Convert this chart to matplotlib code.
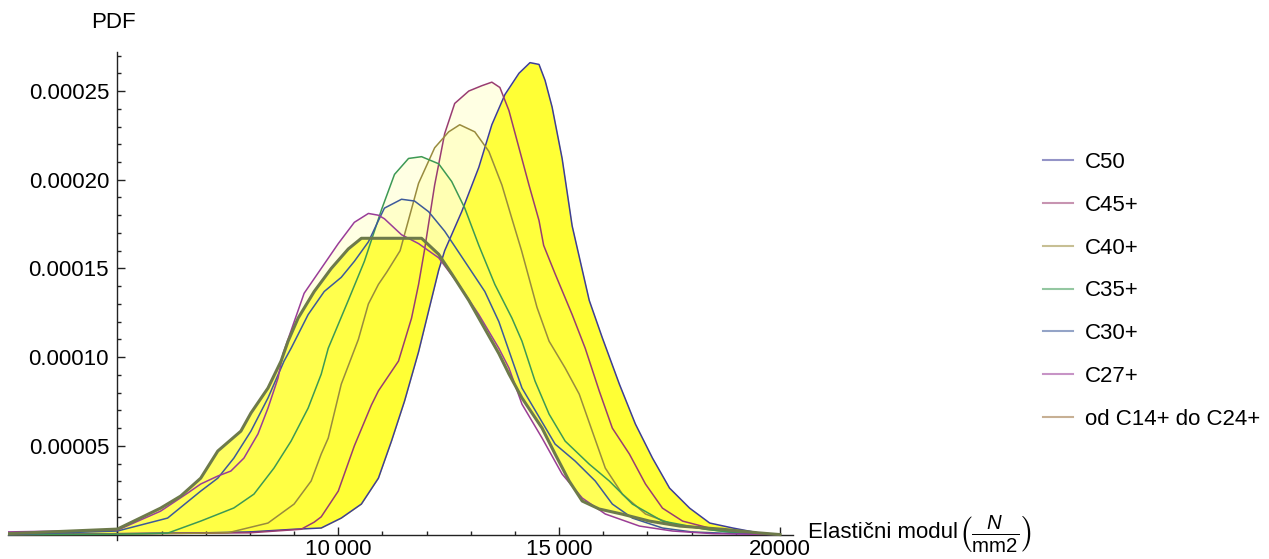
import numpy as np
import matplotlib
matplotlib.use("Agg")
import matplotlib.pyplot as plt
from matplotlib.lines import Line2D

plt.rcParams['font.family'] = ['Liberation Sans', 'DejaVu Sans']
plt.rcParams['mathtext.fontset'] = 'custom'
plt.rcParams['mathtext.rm'] = 'Liberation Sans'
plt.rcParams['mathtext.it'] = 'Liberation Sans:italic'

# ---- data (PDF values in units of 1e-5) ----
labels = ["C50", "C45+", "C40+", "C35+", "C30+", "C27+", "od C14+ do C24+"]

c50_x = [2500, 5000, 7000, 8000, 9000, 9614, 10068, 10523, 10909, 11205, 11500, 11818, 12045, 12273, 12409,
         12795, 13182, 13477, 13773, 14091, 14341, 14545, 14682, 14841, 15068, 15295, 15682, 15977, 16364,
         16727, 17114, 17500, 17955, 18409, 18932, 19500, 20000]
c50_y = [0, 0.05, 0.1, 0.15, 0.3, 0.37, 0.93, 1.72, 3.18, 5.27, 7.52, 10.3, 12.6, 14.9, 16.0,
         18.2, 20.7, 23.1, 24.8, 26.0, 26.6, 26.5, 25.6, 24.1, 21.2, 17.4, 13.2, 11.1, 8.48,
         6.23, 4.31, 2.62, 1.49, 0.65, 0.37, 0.1, 0]

c45_x = [2500, 5000, 8000, 9159, 9455, 9614, 10000, 10364, 10750, 10909, 11364, 11659, 11818, 11950, 12182,
         12409, 12636, 12955, 13250, 13477, 13659, 13864, 14091, 14318, 14545, 14650, 14909, 15295, 15591,
         15909, 16205, 16591, 16955, 17340, 17795, 18400, 19000, 20000]
c45_y = [0, 0.05, 0.1, 0.3, 0.7, 1.0, 2.45, 5.0, 7.3, 8.1, 9.78, 12.2, 14.1, 16.0, 19.7,
         22.6, 24.3, 25.0, 25.3, 25.5, 25.2, 23.9, 21.8, 19.7, 17.7, 16.3, 14.7, 12.4, 10.5,
         8.09, 6.0, 4.54, 2.85, 1.49, 0.76, 0.37, 0.15, 0]

c40_x = [2500, 5000, 7500, 8409, 9000, 9386, 9614, 9773, 10068, 10455, 10682, 10909, 11100, 11400, 11818,
         12182, 12500, 12750, 13091, 13409, 13705, 13932, 14150, 14500, 14773, 15136, 15455, 15750, 16045,
         16432, 16955, 17568, 18318, 19000, 20000]
c40_y = [0, 0.02, 0.1, 0.65, 1.72, 3.02, 4.54, 5.44, 8.48, 11.0, 13.0, 14.1, 14.8, 16.0, 19.8,
         21.8, 22.7, 23.1, 22.7, 21.6, 19.7, 17.8, 16.0, 12.8, 10.9, 9.39, 7.92, 5.83, 3.75,
         2.28, 1.16, 0.59, 0.3, 0.1, 0]

c35_x = [2500, 5000, 6136, 6886, 7636, 8091, 8545, 8932, 9318, 9614, 9773, 10227, 10591, 10818, 10977,
         11273, 11591, 11886, 12273, 12568, 12864, 13182, 13545, 13932, 14159, 14455, 14773, 15136, 15682,
         16136, 16659, 17340, 18318, 19000, 20000]
c35_y = [0, 0.02, 0.08, 0.76, 1.5, 2.28, 3.75, 5.27, 7.13, 9.04, 10.5, 13.2, 15.4, 17.1, 18.3,
         20.3, 21.2, 21.3, 20.9, 19.9, 18.4, 16.3, 14.1, 12.2, 10.9, 8.65, 6.79, 5.27, 3.97,
         3.02, 1.72, 0.76, 0.3, 0.1, 0]

c30_x = [2500, 5000, 6136, 6886, 7273, 7636, 8023, 8409, 8773, 8932, 9318, 9682, 10068, 10364, 10682,
         10909, 11045, 11432, 11727, 12045, 12409, 12864, 13318, 13636, 14000, 14159, 14909, 15364, 15818,
         16205, 16659, 17340, 18000, 19000, 20000]
c30_y = [0, 0.2, 0.93, 2.45, 3.18, 4.31, 5.83, 7.7, 9.78, 10.5, 12.4, 13.7, 14.5, 15.4, 16.5,
         17.7, 18.4, 18.9, 18.8, 18.2, 17.1, 15.4, 13.7, 12.0, 9.39, 8.26, 5.1, 4.14, 3.02,
         1.72, 0.93, 0.37, 0.15, 0.05, 0]

c27_x = [2500, 5000, 5977, 6591, 6886, 7273, 7568, 7864, 8182, 8409, 8636, 8750, 8932, 9227, 9614,
         10000, 10364, 10682, 10909, 11045, 11432, 11818, 12273, 12727, 13182, 13636, 13864, 14159, 14614,
         15068, 15523, 16045, 16818, 17568, 18500, 20000]
c27_y = [0.15, 0.25, 1.32, 2.34, 2.85, 3.3, 3.58, 4.31, 5.67, 7.13, 8.82, 10.2, 11.5, 13.6, 15.0,
         16.4, 17.6, 18.1, 18.0, 17.8, 16.9, 16.4, 15.6, 14.1, 12.4, 10.5, 9.39, 7.35, 5.44,
         3.41, 2.06, 1.16, 0.48, 0.2, 0.05, 0]

c14_x = [2500, 5000, 5977, 6432, 6886, 7273, 7795, 8023, 8409, 8705, 8864, 9091, 9455, 9841, 10227,
         10523, 10818, 11432, 11886, 12273, 12568, 12955, 13318, 13636, 13864, 14159, 14614, 14909, 15227,
         15523, 15909, 16432, 17045, 17727, 18700, 19500, 20000]
c14_y = [0.05, 0.31, 1.49, 2.17, 3.18, 4.71, 5.83, 6.85, 8.26, 9.78, 10.9, 12.2, 13.7, 15.0, 16.1,
         16.7, 16.7, 16.7, 16.7, 15.8, 14.7, 13.2, 11.6, 10.2, 9.05, 7.7, 6.0, 4.54, 3.02,
         1.89, 1.44, 1.15, 0.76, 0.48, 0.3, 0.1, 0]

xs = [c50_x, c45_x, c40_x, c35_x, c30_x, c27_x, c14_x]
ys = [c50_y, c45_y, c40_y, c35_y, c30_y, c27_y, c14_y]

line_colors = ["#3d3d99", "#993d71", "#998b3d", "#3d9954", "#3d5a99", "#993d98", "#6d7a4b"]
legend_colors = ["#3d3d99", "#993d71", "#998b3d", "#3d9954", "#3d5a99", "#993d98", "#996f3d"]

ytick_vals = [0.00005, 0.00010, 0.00015, 0.00020, 0.00025]
ytick_labels = ["0.00005", "0.00010", "0.00015", "0.00020", "0.00025"]
xtick_vals = [10000, 15000, 20000]
xtick_labels = ["10\u2009000", "15\u2009000", "20000"]

# ---- figure ----
W, H = 1269, 559
fig = plt.figure(figsize=(W / 100, H / 100), dpi=100)
ax = fig.add_axes([8 / W, (H - 539.9) / H, 785 / W, 487.9 / H])
ax.set_xlim(2523, 20295)
ax.set_ylim(-0.000003, 0.000272)
ax.patch.set_alpha(0)

scale = 1e-5
grid = np.unique(np.concatenate([np.array(x, float) for x in xs]))
curves = [np.interp(grid, np.array(x, float), np.array(y, float) * scale) for x, y in zip(xs, ys)]
base = curves[0]
yellow = "#ffff00"
for i in range(1, 6):
    ax.fill_between(grid, curves[i], base, color=yellow, alpha=0.11, lw=0, zorder=1)
ax.fill_between(grid, curves[6], base, color=yellow, alpha=0.62, lw=0, zorder=1)

for i, (x, y) in enumerate(zip(xs, ys)):
    lw = 2.2 if i == 6 else 1.1
    ax.plot(np.array(x), np.array(y) * scale, color=line_colors[i], lw=lw, zorder=3 + i)

# axes styling
for s in ["top", "right"]:
    ax.spines[s].set_visible(False)
ax.spines["left"].set_position(("data", 5000))
ax.spines["bottom"].set_position(("data", 0))
for s in ["left", "bottom"]:
    ax.spines[s].set_color("#222222")
    ax.spines[s].set_linewidth(1.0)

ax.set_xticks(xtick_vals)
ax.set_xticklabels(xtick_labels)
ax.set_xticks(np.arange(3000, 20001, 1000), minor=True)
ax.set_yticks(ytick_vals)
ax.set_yticklabels(ytick_labels)
ax.set_yticks(np.arange(0.00001, 0.000271, 0.00001), minor=True)
ax.tick_params(which="both", direction="in", color="#222222", width=1.0, labelsize=16)
ax.tick_params(which="major", length=5.5)
ax.tick_params(which="minor", length=3)
ax.tick_params(axis="x", which="major", pad=3)
ax.tick_params(axis="y", which="major", pad=6)

fig.text(113 / W, 1 - 22 / H, "PDF", fontsize=16, ha="center", va="center")
t1 = fig.text(808 / W, 1 - 533 / H, "Elastični modul", fontsize=16, ha="left", va="center")
fig.canvas.draw()
bb = t1.get_window_extent()
fig.text(bb.x1 / W, 1 - 534 / H, r"$\left(\frac{N}{\mathrm{mm2}}\right)$",
         fontsize=21, ha="left", va="center")

handles = [Line2D([0], [0], color=c, lw=1.5, alpha=0.55) for c in legend_colors]
fig.legend(handles, labels, loc="upper left", bbox_to_anchor=(1043 / W, 1 - 152 / H),
           frameon=False, fontsize=16, handlelength=1.35, handletextpad=0.55, labelspacing=0.98,
           borderaxespad=0, borderpad=0)

fig.savefig("out.png", dpi=100)
